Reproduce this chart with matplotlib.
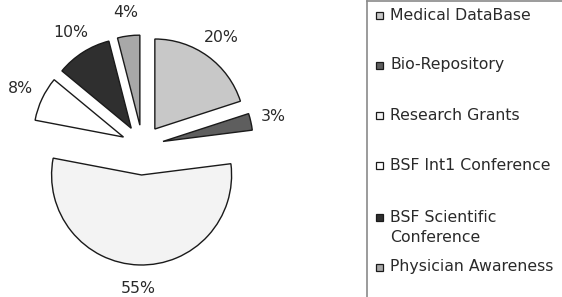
import matplotlib.pyplot as plt
from matplotlib.patches import Rectangle
from matplotlib.lines import Line2D

# data
labels = ["Medical DataBase", "Bio-Repository", "Research Grants",
          "BSF Int1 Conference", "BSF Scientific\nConference", "Physician Awareness"]
shares = [20, 3, 55, 8, 10, 4]

# styling
colors = ["#c8c8c8", "#5e5e5e", "#f3f3f3", "#ffffff", "#2f2f2f", "#a8a8a8"]
explode = [21, 21, 29, 21, 21, 21]   # pixels, axes are in pixel units
text_color = "#2a2a2a"
fsize = 11.3

plt.rcParams['font.family'] = ['DejaVu Sans']

W, H = 562, 297
fig = plt.figure(figsize=(W / 100, H / 100), dpi=100)
ax = fig.add_axes([0, 0, 1, 1])

wedges, texts, autotexts = ax.pie(
    shares, explode=explode, colors=colors, startangle=90, counterclock=False,
    center=(142.5, H - 146), radius=90, autopct='%1.0f%%', pctdistance=1.26,
    wedgeprops=dict(edgecolor="#1a1a1a", linewidth=1.0),
    textprops=dict(fontsize=fsize, color=text_color))

ax.set_xlim(0, W)
ax.set_ylim(0, H)
ax.axis('off')

# legend box (cropped at the right and bottom edges, like the original)
frame_x = 367
ax.add_line(Line2D([frame_x, frame_x], [-2, H - 1], color="#8a8a8a", lw=1.2))
ax.add_line(Line2D([frame_x, W + 2], [H - 1, H - 1], color="#8a8a8a", lw=1.2))

row_y = [15, 65, 115, 165, 217, 267]   # first-line centre of each entry (px from top)
for lab, col, y in zip(labels, colors, row_y):
    ax.add_patch(Rectangle((376, H - y - 3.5), 7, 7, facecolor=col,
                           edgecolor="#1a1a1a", linewidth=0.9))
    for k, line in enumerate(lab.split("\n")):
        ax.text(390, H - y - 20 * k, line, fontsize=fsize, color=text_color,
                ha='left', va='center')

fig.savefig("out.png", dpi=100)
